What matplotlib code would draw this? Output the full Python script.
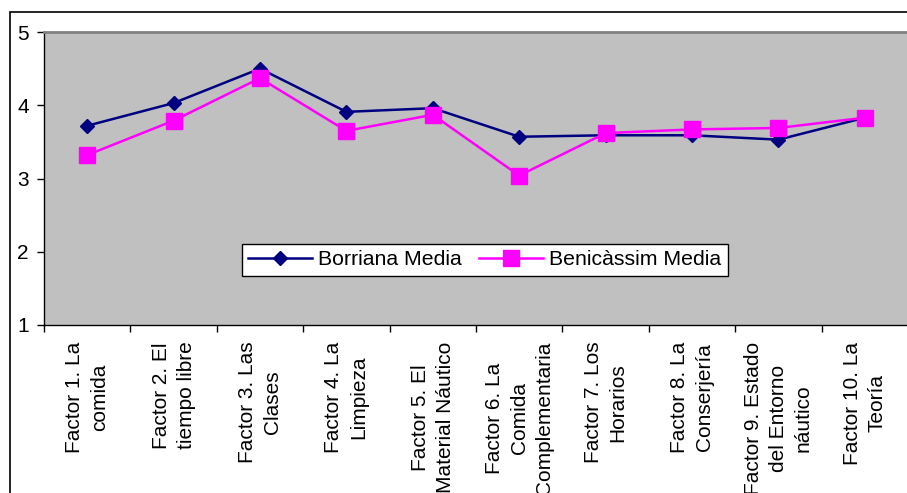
import matplotlib
matplotlib.use("Agg")
import matplotlib.pyplot as plt
from matplotlib.patches import Rectangle
import numpy as np

categories = [
    "Factor 1. La\ncomida",
    "Factor 2. El\ntiempo libre",
    "Factor 3. Las\nClases",
    "Factor 4. La\nLimpieza",
    "Factor 5. El\nMaterial Náutico",
    "Factor 6. La\nComida\nComplementaria",
    "Factor 7. Los\nHorarios",
    "Factor 8. La\nConserjería",
    "Factor 9. Estado\ndel Entorno\nnáutico",
    "Factor 10. La\nTeoría",
]
borriana = [3.72, 4.03, 4.50, 3.91, 3.96, 3.57, 3.59, 3.59, 3.53, 3.83]
benicassim = [3.32, 3.79, 4.37, 3.65, 3.87, 3.04, 3.62, 3.67, 3.69, 3.83]
yticks = [1, 2, 3, 4, 5]

plt.rcParams['font.family'] = ['Liberation Sans', 'DejaVu Sans']

W, H = 907, 493
fig = plt.figure(figsize=(W / 100, H / 100), dpi=100)

# outer chart border
fig.patches.append(Rectangle((10 / W, -0.1), 1.2, (H - 12) / H + 0.1,
                             transform=fig.transFigure, fill=False,
                             edgecolor='black', linewidth=1.2))

ax = fig.add_axes([44 / W, (H - 325) / H, 864 / W, 293 / H])
ax.set_facecolor('#C0C0C0')

x = np.arange(len(categories))
ax.plot(x, borriana, color='#000080', linewidth=1.8, marker='D',
        markersize=7.6, label='Borriana Media', zorder=3)
ax.plot(x, benicassim, color='#FF00FF', linewidth=1.8, marker='s',
        markersize=11.5, label='Benicàssim Media', zorder=4)

ax.set_xlim(-0.5, len(categories) - 0.5)
ax.set_ylim(1, 5)
ax.set_yticks(yticks)
ax.tick_params(axis='y', length=5, width=1, pad=6, labelsize=15, direction='out')

ax.set_xticks(x)
ax.set_xticklabels(categories, rotation=90, ha='center', va='top',
                   multialignment='center', fontsize=15, linespacing=1.4)
ax.tick_params(axis='x', which='major', length=0, pad=12)
ax.set_xticks(np.arange(-0.5, len(categories) + 0.5, 1), minor=True)
ax.tick_params(axis='x', which='minor', length=5, width=1, direction='out')

for s in ['left', 'bottom']:
    ax.spines[s].set_color('black')
    ax.spines[s].set_linewidth(1)
ax.spines['top'].set_color('#808080')
ax.spines['top'].set_linewidth(2)
ax.spines['right'].set_visible(False)

leg = ax.legend(loc='center', bbox_to_anchor=(0.51, 0.222), ncol=2,
                fontsize=15.3, frameon=True, fancybox=False, edgecolor='black',
                framealpha=1, handlelength=3.0, columnspacing=0.8,
                handletextpad=0.3, borderpad=0.3, borderaxespad=0)
leg.get_frame().set_linewidth(1)

fig.savefig('out.png', dpi=100)
